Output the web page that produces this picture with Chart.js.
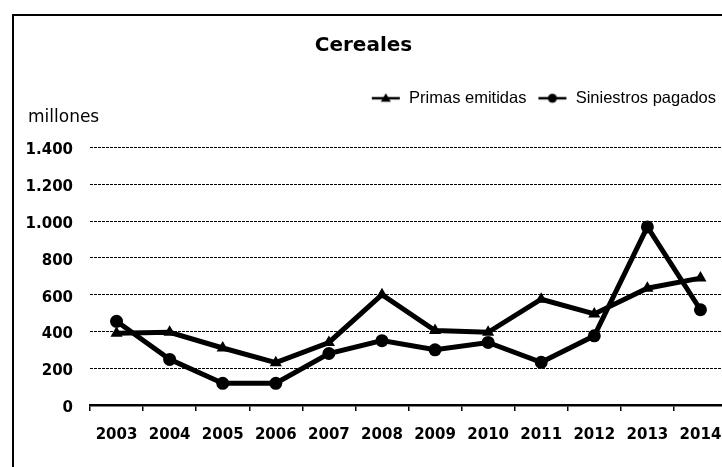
<!DOCTYPE html>
<html>
<head>
<meta charset="utf-8">
<script src="https://cdn.jsdelivr.net/npm/chart.js@4.4.1/dist/chart.umd.min.js"></script>
<style>
  html, body { margin: 0; padding: 0; background: #fff; overflow: hidden; }
  #marco { position: absolute; left: 12px; top: 14px; width: 780px; height: 520px; border: 2px solid #000; }
  #caja { position: absolute; left: 0; top: 0; width: 740px; height: 467px; }
</style>
</head>
<body>
<div id="marco"></div>
<div id="caja"><canvas id="graficoCereales"></canvas></div>
<script>
(() => {
  'use strict'

  const anios = ['2003','2004','2005','2006','2007','2008','2009','2010','2011','2012','2013','2014'];
  const primasEmitidas = [390, 395, 310, 230, 340, 600, 405, 395, 575, 495, 635, 690];
  const siniestrosPagados = [455, 248, 118, 118, 280, 350, 300, 340, 232, 376, 968, 518];
  const etiquetasY = ['0', '200', '400', '600', '800', '1.000', '1.200', '1.400'];

  // little line + marker for the legend
  function marcaLeyenda(tipo) {
    const c = document.createElement('canvas');
    c.width = 30; c.height = 14;
    const g = c.getContext('2d');
    g.strokeStyle = '#000'; g.fillStyle = '#000'; g.lineWidth = 2.5;
    g.beginPath(); g.moveTo(1, 7); g.lineTo(29, 7); g.stroke();
    g.beginPath();
    if (tipo === 'triangle') {
      g.moveTo(15, 2); g.lineTo(20, 10.5); g.lineTo(10, 10.5); g.closePath();
    } else {
      g.arc(15, 7, 4.5, 0, Math.PI * 2);
    }
    g.fill();
    return c;
  }

  // "millones" sits between the legend and the plot
  const unidades = {
    id: 'unidades',
    beforeInit(chart) {
      const caja = {
        position: 'top', weight: 500, fullSize: true, options: {},
        left: 0, top: 0, right: 0, bottom: 0, width: 0, height: 0,
        isHorizontal: () => true,
        update(maxWidth) { this.width = maxWidth; this.height = 31; },
        draw() {
          const ctx = chart.ctx;
          ctx.save();
          ctx.font = '17px "DejaVu Sans"';
          ctx.fillStyle = '#000';
          ctx.textBaseline = 'alphabetic';
          ctx.fillText('millones', 28, this.top + 5);
          ctx.restore();
        }
      };
      Chart.layouts.addBox(chart, caja);
    }
  };

  const ctx = document.getElementById('graficoCereales');
  // eslint-disable-next-line no-unused-vars
  const grafico = new Chart(ctx, {
    type: 'line',
    data: {
      labels: anios,
      datasets: [{
        label: 'Primas emitidas',
        data: primasEmitidas,
        borderColor: '#000',
        backgroundColor: '#000',
        borderWidth: 5,
        pointStyle: 'triangle',
        pointRadius: 7,
        pointBackgroundColor: '#000',
        pointBorderWidth: 0,
        lineTension: 0
      }, {
        label: 'Siniestros pagados',
        data: siniestrosPagados,
        borderColor: '#000',
        backgroundColor: '#000',
        borderWidth: 5,
        pointStyle: 'circle',
        pointRadius: 6.5,
        pointBackgroundColor: '#000',
        pointBorderWidth: 0,
        lineTension: 0
      }]
    },
    plugins: [unidades],
    options: {
      responsive: true,
      maintainAspectRatio: false,
      animation: false,
      events: [],
      layout: { padding: { left: 0, right: 13, top: 0, bottom: 0 } },
      scales: {
        x: {
          offset: true,
          grid: {
            offset: true,
            drawOnChartArea: false,
            drawTicks: true,
            tickLength: 6,
            color: '#000',
            lineWidth: 1.5
          },
          border: { display: true, color: '#000', width: 2.5 },
          ticks: {
            color: '#000',
            font: { family: '"DejaVu Sans"', size: 15, weight: 'bold' },
            padding: 15,
            maxRotation: 0,
            autoSkip: false
          },
          afterFit(scale) { scale.height = 62; }
        },
        y: {
          min: 0,
          max: 1400,
          grid: {
            color: '#000',
            lineWidth: 1,
            drawTicks: false
          },
          border: { display: false, dash: [3, 1] },
          ticks: {
            stepSize: 200,
            color: '#000',
            font: { family: '"DejaVu Sans"', size: 15, weight: 'bold' },
            padding: 17,
            labelOffset: 3,
            callback: (v, i) => etiquetasY[i]
          },
          afterFit(scale) { scale.width = 90; }
        }
      },
      plugins: {
        title: {
          display: true,
          text: 'Cereales',
          color: '#000',
          font: { family: '"DejaVu Sans"', size: 20, weight: 'bold' },
          padding: { top: 34, bottom: 21 }
        },
        legend: {
          display: true,
          position: 'top',
          align: 'end',
          labels: {
            color: '#000',
            font: { family: '"Liberation Sans"', size: 16.5 },
            padding: 11,
            usePointStyle: true,
            pointStyleWidth: 30,
            generateLabels(chart) {
              const base = Chart.defaults.plugins.legend.labels.generateLabels(chart);
              return base.map((item, i) => {
                item.pointStyle = marcaLeyenda(i === 0 ? 'triangle' : 'circle');
                return item;
              });
            }
          }
        },
        tooltip: { enabled: false }
      }
    }
  });
})()
</script>
</body>
</html>
